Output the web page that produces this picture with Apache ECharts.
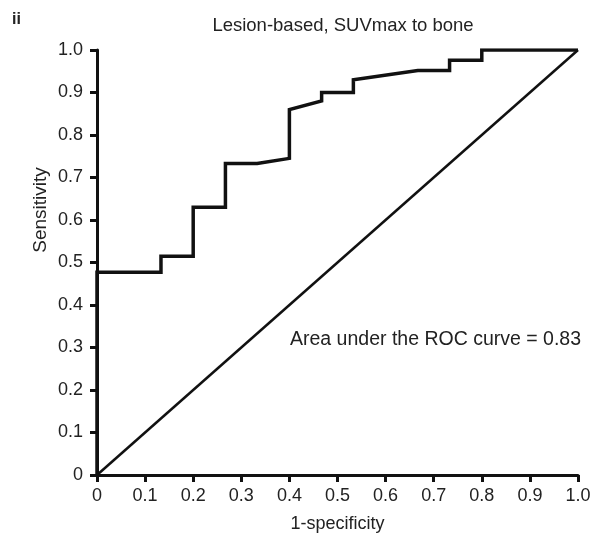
<!DOCTYPE html>
<html>
<head>
<meta charset="utf-8">
<script src="https://cdn.jsdelivr.net/npm/echarts@6/dist/echarts.min.js"></script>
<style>html,body{margin:0;padding:0;background:#fff;}#c{width:602px;height:535px;}</style>
</head>
<body>
<div id="c"></div>
<script>
// ROC curve points: [1-specificity, sensitivity]
var rocX = [0, 0, 0.133, 0.133, 0.2, 0.2, 0.267, 0.267, 0.333, 0.4, 0.4, 0.467, 0.467, 0.533, 0.533, 0.667, 0.733, 0.733, 0.8, 0.8, 1.0];
var rocY = [0, 0.477, 0.477, 0.515, 0.515, 0.63, 0.63, 0.733, 0.733, 0.745, 0.86, 0.88, 0.9, 0.9, 0.93, 0.952, 0.952, 0.976, 0.976, 1.0, 1.0];
var refX = [0, 1];
var refY = [0, 1];
var titleText = 'Lesion-based, SUVmax to bone';
var panelLabel = 'ii';
var aucText = 'Area under the ROC curve = 0.83';
var xName = '1-specificity';
var yName = 'Sensitivity';

var font = '"Liberation Sans", Arial, sans-serif';
var txt = '#222';
function fmt(v){ return v === 0 ? '0' : v.toFixed(1); }
function zip(a,b){ return a.map(function(v,i){ return [v,b[i]]; }); }

var chart = echarts.init(document.getElementById('c'));
chart.setOption({
  animation: false,
  backgroundColor: '#fff',
  title: {
    text: titleText, left: 338, top: 11, textAlign: 'center',
    textStyle: { fontFamily: font, fontSize: 18.5, fontWeight: 'normal', color: txt }
  },
  graphic: [
    { type: 'text', left: 12, top: 12, style: { text: panelLabel, font: 'bold 16px ' + font, fill: txt } },
    { type: 'text', left: 290, top: 330, style: { text: aucText, font: '19.5px ' + font, fill: txt } },
    { type: 'text', x: 41, y: 210, rotation: Math.PI / 2,
      style: { text: yName, font: '19px ' + font, fill: txt, align: 'center', verticalAlign: 'middle' } }
  ],
  grid: { left: 97, right: 24, top: 50, bottom: 60, containLabel: false, outerBoundsMode: 'none' },
  xAxis: {
    type: 'value', min: 0, max: 1, interval: 0.1,
    name: xName, nameLocation: 'middle', nameGap: 40,
    nameTextStyle: { fontFamily: font, fontSize: 18, color: txt },
    axisLine: { show: true, lineStyle: { color: '#111', width: 3 } },
    axisTick: { show: true, length: 7, lineStyle: { color: '#111', width: 3 } },
    axisLabel: { formatter: fmt, fontFamily: font, fontSize: 18, color: txt, margin: 12 },
    splitLine: { show: false }
  },
  yAxis: {
    type: 'value', min: 0, max: 1, interval: 0.1,
    axisLine: { show: true, lineStyle: { color: '#111', width: 3 } },
    axisTick: { show: true, length: 7, lineStyle: { color: '#111', width: 3 } },
    axisLabel: { formatter: fmt, fontFamily: font, fontSize: 18, color: txt, margin: 14 },
    splitLine: { show: false }
  },
  series: [
    { type: 'line', data: zip(refX, refY), showSymbol: false, symbol: 'none',
      lineStyle: { color: '#111', width: 2.5 }, silent: true },
    { type: 'line', data: zip(rocX, rocY), showSymbol: false, symbol: 'none',
      lineStyle: { color: '#111', width: 3.5, join: 'miter' }, silent: true }
  ]
});
</script>
</body>
</html>
